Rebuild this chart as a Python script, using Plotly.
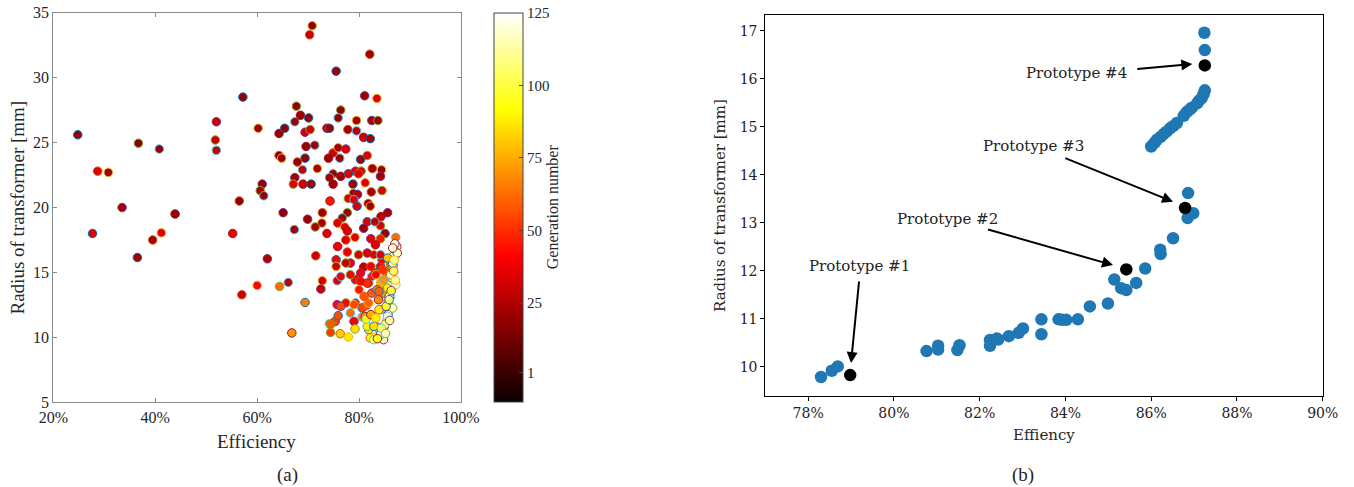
import plotly.graph_objects as go

# ---------------- (a) all generations ----------------
eff_a = [24.8, 28.7, 30.8, 33.5, 36.7, 40.8, 43.9, 27.7, 39.5, 41.2,
         52.0, 51.8, 52.0, 55.2, 57.2, 56.5, 60.2, 61.0, 60.6, 61.3,
         64.3, 65.4, 64.3, 64.8, 65.1, 67.7, 67.4, 68.5, 70.1, 70.3,
         70.8, 69.4, 70.4, 71.3, 69.6, 69.4, 67.9, 71.8, 67.4, 67.1,
         68.9, 69.0, 70.6, 72.8, 72.7, 69.9, 71.4, 67.3, 73.7, 75.5,
         82.1, 83.5, 81.1, 76.4, 75.9, 73.7, 74.2, 77.8, 79.5, 82.5,
         83.7, 79.5, 80.9, 82.2, 74.9, 75.9, 77.4, 81.6, 76.2, 74.0,
         80.3, 82.6, 84.4, 79.3, 80.4, 74.9, 76.4, 77.9, 79.9, 81.2,
         84.2, 84.5, 74.2, 74.9, 78.8, 82.4, 78.9, 79.7, 77.9, 79.0,
         74.3, 79.6, 81.8, 82.2, 85.6, 77.7, 76.7, 84.3, 81.6, 75.8,
         77.2, 80.9, 84.2, 83.1, 77.7, 85.1, 77.4, 79.2, 82.3, 84.2,
         87.2, 87.4,
         36.5, 57.0, 60.0, 62.0, 64.4, 66.1, 66.8, 69.4, 71.5, 72.8,
         72.5, 74.4, 74.2, 75.3, 75.9, 76.3, 77.9, 75.7, 77.4, 79.3,
         75.8, 75.5, 77.7, 75.5, 78.3, 77.4, 75.7, 80.9, 79.3, 80.3,
         80.0, 79.0, 79.2, 80.6, 81.2, 80.6, 81.4, 81.9, 82.5, 81.9,
         82.5, 83.2, 84.2, 84.5, 82.9, 81.6, 79.9, 84.2, 83.2, 81.9,
         82.2, 83.2, 83.5, 83.2, 84.5, 83.8, 84.8, 85.4, 84.8, 85.4,
         86.1, 86.9, 87.0, 86.7, 86.7, 86.4, 86.1, 86.1, 86.2, 86.1,
         85.7, 85.4, 84.9, 84.5, 84.0, 82.9, 84.8, 86.4, 85.7, 84.2,
         83.5, 81.6, 81.4,
         87.5, 86.6, 86.2, 87.2, 85.9, 86.6, 85.6, 84.9, 84.2,
         82.3, 83.3, 80.3, 78.3, 76.4, 81.6, 83.9, 81.0, 79.0, 76.4,
         74.4, 78.3, 82.3, 82.9,
         83.9, 83.3, 85.3, 85.6, 84.9, 86.6, 85.6, 84.6, 86.9, 86.3,
         85.1, 84.4, 83.6, 85.9, 86.8, 87.1, 86.0, 85.2]
rad_a = [25.6, 22.8, 22.7, 20.0, 24.95, 24.5, 19.5, 18.0, 17.5, 18.05,
         26.6, 25.2, 24.4, 18.0, 28.5, 20.5, 26.1, 21.8, 21.3, 20.9,
         25.7, 26.1, 24.0, 23.8, 19.6, 27.8, 26.6, 27.1, 26.9, 33.3,
         34.0, 25.8, 26.0, 24.8, 24.7, 23.8, 23.5, 23.0, 22.3, 21.8,
         22.9, 21.8, 21.8, 19.6, 18.8, 19.1, 18.5, 18.3, 18.0, 30.5,
         31.8, 28.4, 28.6, 27.5, 26.9, 26.1, 26.1, 26.0, 26.7, 26.7,
         26.7, 25.9, 25.4, 25.3, 24.2, 24.6, 24.5, 24.0, 23.8, 23.8,
         23.7, 23.0, 22.9, 22.8, 22.8, 22.6, 22.4, 22.6, 22.6, 21.9,
         22.4, 21.3, 22.3, 21.8, 21.8, 21.2, 21.1, 21.0, 20.7, 20.6,
         20.5, 20.1, 20.3, 20.1, 19.6, 19.6, 19.2, 19.3, 18.9, 18.8,
         18.5, 18.4, 18.6, 18.9, 18.2, 18.0, 17.5, 17.7, 17.6, 17.6,
         17.7, 17.0,
         16.15, 13.28, 14.0, 16.05, 13.92, 14.23, 10.34, 12.69, 16.28, 14.36,
         13.72, 10.38, 11.05, 11.23, 11.67, 10.28, 10.03, 12.52, 12.65, 12.65,
         17.0, 15.98, 16.57, 15.46, 15.72, 15.72, 14.36, 15.41, 14.44, 14.31,
         13.67, 11.23, 10.65, 11.57, 11.6, 12.27, 12.44, 12.65, 13.41, 14.18,
         14.69, 14.95, 15.46, 15.98, 16.36, 16.49, 16.36, 16.36, 17.13, 10.59,
         9.95, 10.03, 10.8, 11.57, 12.13, 12.9, 13.41, 13.92, 14.44, 15.03,
         15.6, 16.74, 17.2, 16.23, 15.52, 14.82, 14.18, 13.67, 13.15, 12.38,
         11.75, 11.23, 10.8, 10.46, 10.03, 9.82, 9.82, 14.57, 12.77, 14.18,
         13.67, 10.85, 11.4,
         16.49, 15.72, 14.82, 14.05, 13.15, 12.26, 11.62, 10.85, 10.21,
         15.46, 14.82, 14.95, 14.82, 14.69, 14.18, 13.54, 13.15, 12.52, 12.39,
         10.98, 11.88, 11.75, 10.85,
         12.13, 11.49, 12.39, 13.8, 14.44, 16.88, 16.11, 15.2, 15.95, 13.6,
         11.0, 10.7, 9.9, 12.9, 15.1, 14.4, 11.3, 10.3]
gen_a = [20, 35, 20, 22, 18, 20, 20, 35, 22, 35,
         30, 30, 30, 38, 20, 18, 22, 20, 22, 20,
         18, 20, 20, 20, 18, 20, 22, 20, 20, 30,
         20, 32, 32, 22, 20, 20, 20, 22, 22, 35,
         30, 32, 22, 22, 22, 22, 25, 22, 35, 22,
         22, 35, 22, 20, 20, 32, 22, 22, 22, 22,
         22, 28, 32, 22, 30, 22, 35, 35, 22, 22,
         22, 22, 22, 35, 32, 22, 22, 35, 35, 35,
         22, 35, 22, 22, 22, 22, 22, 25, 35, 35,
         45, 35, 22, 22, 22, 22, 22, 28, 35, 35,
         35, 22, 35, 28, 35, 22, 35, 35, 35, 45,
         62, 118,
         22, 30, 42, 25, 62, 30, 70, 66, 30, 32,
         30, 52, 52, 55, 56, 82, 88, 42, 42, 42,
         40, 40, 38, 30, 38, 30, 35, 30, 42, 42,
         45, 40, 85, 68, 70, 55, 58, 60, 60, 45,
         45, 45, 40, 40, 35, 35, 35, 35, 35, 88,
         90, 95, 90, 75, 72, 68, 70, 60, 55, 58,
         62, 118, 120, 118, 118, 115, 115, 118, 115, 118,
         118, 118, 118, 118, 118, 105, 120, 92, 88, 75,
         68, 90, 92,
         118, 118, 118, 118, 118, 118, 118, 118, 118,
         40, 40, 40, 40, 40, 50, 60, 58, 55, 55,
         58, 62, 75, 85,
         90, 88, 95, 88, 70, 118, 80, 50, 110, 100,
         112, 105, 95, 108, 105, 112, 110, 115]

# ---------------- (b) final Pareto front ----------------
eff_b = [78.30, 78.55, 78.69, 80.76, 81.03, 81.03, 81.48, 81.53, 82.24, 82.24,
         82.40, 82.43, 82.68, 82.91, 83.01, 83.44, 83.44, 83.84, 83.92, 84.02,
         84.29, 84.57, 84.99, 85.14, 85.30, 85.42, 85.65, 85.86, 86.22, 86.21,
         86.51, 86.85, 86.98, 86.86, 86.00, 86.07, 86.13, 86.22, 86.29, 86.36,
         86.44, 86.52, 86.60, 86.76, 86.83, 86.90, 86.95, 87.07, 87.12, 87.18,
         87.22, 87.25, 87.25, 87.24]
rad_b = [9.79, 9.92, 10.01, 10.33, 10.36, 10.44, 10.35, 10.45, 10.44, 10.56,
         10.59, 10.57, 10.64, 10.71, 10.80, 10.99, 10.68, 10.99, 10.98, 10.98,
         10.99, 11.26, 11.32, 11.82, 11.64, 11.60, 11.75, 12.05, 12.35, 12.44,
         12.68, 13.10, 13.20, 13.62, 14.59, 14.66, 14.73, 14.79, 14.85, 14.90,
         14.97, 15.02, 15.08, 15.23, 15.31, 15.36, 15.40, 15.49, 15.55, 15.60,
         15.68, 15.76, 16.60, 16.96]

proto_names = ["Prototype #1", "Prototype #2", "Prototype #3", "Prototype #4"]
proto_eff = [78.98, 85.42, 86.79, 87.25]
proto_rad = [9.83, 12.03, 13.31, 16.28]

# annotation anchors (data coords of panel b): label centre, arrow tail, arrow head
label_pos = [(79.19, 12.11), (81.25, 13.09), (83.26, 14.61), (84.26, 16.12)]
arrow_tail = [(79.19, 11.81), (82.16, 12.87), (83.96, 14.36), (85.64, 16.20)]
arrow_head = [(79.00, 10.08), (85.11, 12.12), (86.51, 13.44), (86.96, 16.31)]

gen_ticks = [1, 25, 50, 75, 100, 125]

W, H = 1354, 487
TIMES = "Liberation Serif"
DEJA = "DejaVu Serif"

matlab_order = ["#0072BD", "#D95319", "#EDB120", "#7E2F8E", "#77AC30", "#4DBEEE", "#A2142F"]
edge_cols = [matlab_order[i % 7] for i in range(len(eff_a))]

hot = [[0.0, "rgb(10,0,0)"], [0.375, "rgb(255,0,0)"],
       [0.75, "rgb(255,255,0)"], [1.0, "rgb(255,255,255)"]]

fig = go.Figure()

fig.add_trace(go.Scatter(
    x=[v / 100 for v in eff_a], y=rad_a, mode="markers",
    xaxis="x", yaxis="y", showlegend=False,
    marker=dict(size=8.5, color=gen_a, colorscale=hot, cmin=-9, cmax=125,
                line=dict(width=1, color=edge_cols),
                colorbar=dict(
                    x=494.3 / W, xanchor="left", xpad=0,
                    y=1 - 207.2 / H, yanchor="middle", ypad=0,
                    thickness=29, thicknessmode="pixels",
                    len=389, lenmode="pixels",
                    tickvals=gen_ticks, ticks="inside", ticklen=4,
                    tickcolor="#444", outlinecolor="#444", outlinewidth=1,
                    tickfont=dict(family=TIMES, size=15, color="#262626"),
                    title=dict(text="Generation number", side="right",
                               font=dict(family=TIMES, size=16, color="#262626")),
                )),
))

fig.add_trace(go.Scatter(
    x=[v / 100 for v in eff_b], y=rad_b, mode="markers",
    xaxis="x2", yaxis="y2", showlegend=False,
    marker=dict(size=12.5, color="#1f77b4", line=dict(width=0)),
))
fig.add_trace(go.Scatter(
    x=[v / 100 for v in proto_eff], y=proto_rad, mode="markers",
    xaxis="x2", yaxis="y2", showlegend=False,
    marker=dict(size=12.5, color="black", line=dict(width=0)),
))

annotations = []
for name, (lx, ly), (tx, ty), (hx, hy) in zip(proto_names, label_pos, arrow_tail, arrow_head):
    annotations.append(dict(x=lx / 100, y=ly, xref="x2", yref="y2", text=name,
                            showarrow=False, font=dict(family=DEJA, size=15, color="#222")))
    annotations.append(dict(x=hx / 100, y=hy, ax=tx / 100, ay=ty, xref="x2", yref="y2",
                            axref="x2", ayref="y2", text="", showarrow=True,
                            arrowhead=2, arrowsize=1.1, arrowwidth=2, arrowcolor="black",
                            standoff=0, startstandoff=0))

def paper_txt(text, px, py, family, size, angle=0):
    return dict(x=px / W, y=1 - py / H, xref="paper", yref="paper", text=text,
                showarrow=False, textangle=angle, xanchor="center", yanchor="middle",
                font=dict(family=family, size=size, color="#262626"))

annotations += [
    paper_txt("Efficiency", 256.7, 441.7, TIMES, 19),
    paper_txt("Radius of transformer [mm]", 17, 207.5, TIMES, 19, -90),
    paper_txt("(a)", 287, 475, TIMES, 19),
    paper_txt("Effiency", 1044, 435, DEJA, 15),
    paper_txt("Radius of transformer [mm]", 720, 206, DEJA, 15, -90),
    paper_txt("(b)", 1023, 475, TIMES, 19),
]

left_axis = dict(showline=True, linecolor="#8a8a8a", linewidth=1, mirror="ticks",
                 ticks="inside", ticklen=4, tickcolor="#8a8a8a", showgrid=False,
                 zeroline=False, automargin=False,
                 tickfont=dict(family=TIMES, size=16, color="#262626"))
right_axis = dict(showline=True, linecolor="black", linewidth=1, mirror=True,
                  ticks="outside", ticklen=4, tickcolor="black", showgrid=False,
                  zeroline=False, automargin=False,
                  tickfont=dict(family=DEJA, size=14, color="#222"))

fig.update_layout(
    width=W, height=H, margin=dict(l=0, r=0, t=0, b=0, autoexpand=False),
    paper_bgcolor="white", plot_bgcolor="white",
    xaxis=dict(domain=[53.3 / W, 461 / W], range=[0.2, 1.0],
               tickvals=[0.2, 0.4, 0.6, 0.8, 1.0], tickformat=".0%",
               anchor="y", **left_axis),
    yaxis=dict(domain=[1 - 402.3 / H, 1 - 12.7 / H], range=[5, 35],
               tickvals=[5, 10, 15, 20, 25, 30, 35], anchor="x", **left_axis),
    xaxis2=dict(domain=[765.3 / W, 1322.7 / W], range=[0.77, 0.90],
                tickvals=[0.78, 0.80, 0.82, 0.84, 0.86, 0.88, 0.90], tickformat=".0%",
                anchor="y2", **right_axis),
    yaxis2=dict(domain=[1 - 395.7 / H, 1 - 15 / H], range=[9.4, 17.33],
                tickvals=[10, 11, 12, 13, 14, 15, 16, 17], anchor="x2", **right_axis),
    annotations=annotations,
)

fig.write_html("out.html", config={"displayModeBar": False},
               post_script="document.body.style.margin='0';document.body.style.overflow='hidden';")
